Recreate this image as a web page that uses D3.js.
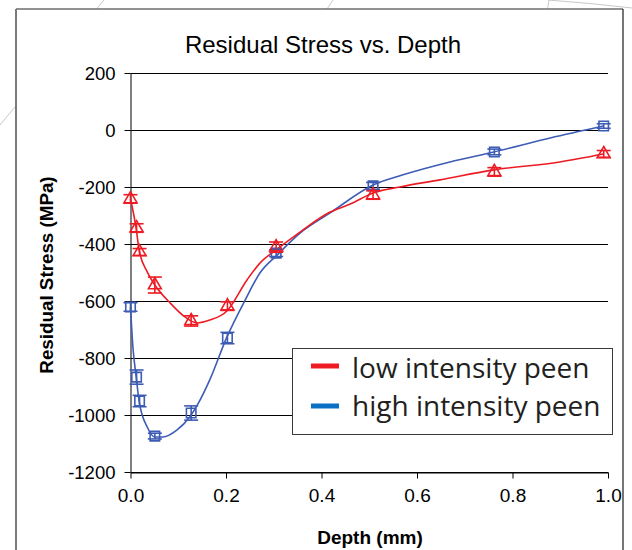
<!DOCTYPE html>
<html>
<head>
<meta charset="utf-8">
<script src="https://cdn.jsdelivr.net/npm/d3@7"></script>
<style>
html,body{margin:0;padding:0;background:#fff;}
svg{display:block;}
</style>
</head>
<body>
<svg id="chart" width="632" height="550"></svg>
<script>
// ---- data ----
const title = "Residual Stress vs. Depth";
const xTicks = [0, 0.2, 0.4, 0.6, 0.8, 1.0];
const yTicks = [200, 0, -200, -400, -600, -800, -1000, -1200];
const seriesNames = ["low intensity peen", "high intensity peen"];

const depth = [0, 0.0127, 0.019, 0.051, 0.127, 0.203, 0.305, 0.508, 0.762, 0.991];
const lowStress  = [-242, -344, -428, -544, -670, -618, -411, -228, -147, -84];
const lowErr     = [15, 15, 12, 28, 18, 15, 18, 15, 15, 12];
const highStress = [-621, -867, -951, -1074, -993, -730, -432, -196, -77, 14];
const highErr    = [15, 25, 20, 10, 25, 20, 12, 12, 10, 8];

// smoothed curves
const lowFitDepth  = [0, 0.012, 0.018, 0.035, 0.051, 0.083, 0.114, 0.139, 0.166, 0.202, 0.244, 0.271, 0.307, 0.355, 0.418, 0.460, 0.508, 0.564, 0.648, 0.761, 0.899, 0.990];
const lowFitStress = [-242, -347, -421, -498, -544, -607, -656, -677, -667, -635, -526, -467, -418, -358, -288, -260, -221, -200, -175, -140, -112, -84];
const highFitDepth  = [0, 0.005, 0.012, 0.018, 0.035, 0.051, 0.068, 0.097, 0.124, 0.141, 0.166, 0.202, 0.240, 0.271, 0.307, 0.355, 0.418, 0.508, 0.569, 0.669, 0.761, 0.879, 0.990];
const highFitStress = [-621, -761, -867, -951, -1042, -1077, -1077, -1053, -1007, -962, -877, -726, -597, -502, -439, -362, -291, -193, -158, -112, -77, -28, 14];

// ---- drawing ----
const RED = "#ed1c24", BLUE = "#3d5cb4", LEG_BLUE = "#0a70c4";
const svg = d3.select("#chart");

// decorative background strokes
const bg = svg.append("g").attr("stroke", "#c8c8c8").attr("stroke-width", 1).attr("fill", "none");
bg.append("line").attr("x1", 0).attr("y1", 125).attr("x2", 104).attr("y2", 0);
bg.append("line").attr("x1", 325).attr("y1", 12).attr("x2", 333).attr("y2", 0);
bg.append("line").attr("x1", 547).attr("y1", 12).attr("x2", 549).attr("y2", 0);
bg.append("path").attr("d", "M548,0 Q590,3 632,8");

// frame
svg.append("rect").attr("x", 16).attr("y", 9).attr("width", 607).attr("height", 560).attr("fill", "#fff");
svg.append("line").attr("x1", 16).attr("y1", 9).attr("x2", 623).attr("y2", 9).attr("stroke", "#6e6e6e").attr("stroke-width", 1.5);
svg.append("line").attr("x1", 16).attr("y1", 9).attr("x2", 16).attr("y2", 550).attr("stroke", "#7a7a7a").attr("stroke-width", 2);
svg.append("line").attr("x1", 623).attr("y1", 9).attr("x2", 623).attr("y2", 550).attr("stroke", "#1a1a1a").attr("stroke-width", 1.2);

const x = d3.scaleLinear().domain([0, 1]).range([130.5, 608]);
const y = d3.scaleLinear().domain([-1200, 200]).range([472, 73]);

// gridlines
svg.append("g").selectAll("line").data(yTicks).join("line")
  .attr("x1", x(0)).attr("x2", x(1))
  .attr("y1", d => Math.round(y(d)) + 0.5).attr("y2", d => Math.round(y(d)) + 0.5)
  .attr("stroke", "#000").attr("stroke-width", 1);

// y axis
const yAxis = d3.axisLeft(y).tickValues(yTicks).tickSize(6).tickSizeOuter(0).tickFormat(d => String(d));
const gy = svg.append("g").attr("transform", `translate(${x(0)},0)`).call(yAxis);
gy.select(".domain").attr("stroke", "#000");
gy.selectAll(".tick line").attr("stroke", "#000");
gy.selectAll(".tick text").attr("font-family", "Liberation Sans, Arial, sans-serif")
  .attr("font-size", 18.5).attr("fill", "#000").attr("x", -15).attr("dy", "0.35em");

// x axis
const xAxis = d3.axisBottom(x).tickValues(xTicks).tickSize(6).tickSizeOuter(0).tickFormat(d3.format(".1f"));
const gx = svg.append("g").attr("transform", `translate(0,${Math.round(y(-1200)) + 0.5})`).call(xAxis);
gx.select(".domain").attr("stroke", "#000");
gx.selectAll(".tick line").attr("stroke", "#000");
gx.selectAll(".tick text").attr("font-family", "Liberation Sans, Arial, sans-serif")
  .attr("font-size", 19).attr("fill", "#000").attr("y", 16).attr("dy", "0.71em");

// title & axis labels
svg.append("text").attr("x", 323).attr("y", 53).attr("text-anchor", "middle")
  .attr("font-family", "Liberation Sans, Arial, sans-serif").attr("font-size", 24).attr("fill", "#000").text(title);
svg.append("text").attr("x", 370).attr("y", 544).attr("text-anchor", "middle")
  .attr("font-family", "Liberation Sans, Arial, sans-serif").attr("font-weight", "bold").attr("font-size", 19).attr("fill", "#000").text("Depth (mm)");
svg.append("text").attr("transform", "translate(53,275) rotate(-90)").attr("text-anchor", "middle")
  .attr("font-family", "Liberation Sans, Arial, sans-serif").attr("font-weight", "bold").attr("font-size", 18.8).attr("fill", "#000").text("Residual Stress (MPa)");

// curves
const line = d3.line().x(d => x(d[0])).y(d => y(d[1])).curve(d3.curveMonotoneX);
svg.append("path").datum(highFitDepth.map((d, i) => [d, highFitStress[i]]))
  .attr("d", line).attr("fill", "none").attr("stroke", BLUE).attr("stroke-width", 1.6);
svg.append("path").datum(lowFitDepth.map((d, i) => [d, lowFitStress[i]]))
  .attr("d", line).attr("fill", "none").attr("stroke", RED).attr("stroke-width", 1.6);

// markers with error bars
function drawMarkers(vals, errs, color, symType, size, capHalf) {
  const g = svg.append("g").attr("stroke", color).attr("fill", "none").attr("stroke-width", 1.6);
  depth.forEach((d, i) => {
    const cx = x(d), top = y(vals[i] + errs[i]), bot = y(vals[i] - errs[i]);
    g.append("line").attr("x1", cx).attr("x2", cx).attr("y1", top).attr("y2", bot);
    g.append("line").attr("x1", cx - capHalf).attr("x2", cx + capHalf).attr("y1", top).attr("y2", top);
    g.append("line").attr("x1", cx - capHalf).attr("x2", cx + capHalf).attr("y1", bot).attr("y2", bot);
    g.append("path").attr("d", d3.symbol().type(symType).size(size)())
      .attr("transform", `translate(${cx},${y(vals[i])})`);
  });
}
drawMarkers(highStress, highErr, BLUE, d3.symbolSquare, 90, 7);
drawMarkers(lowStress, lowErr, RED, d3.symbolTriangle, 72, 7);

// legend
const lg = svg.append("g");
lg.append("rect").attr("x", 292.5).attr("y", 348.5).attr("width", 320).attr("height", 86)
  .attr("fill", "#fff").attr("stroke", "#3a3a3a").attr("stroke-width", 1);
const legColors = [RED, LEG_BLUE];
seriesNames.forEach((name, i) => {
  const yy = 366 + i * 40;
  lg.append("line").attr("x1", 311).attr("x2", 339).attr("y1", yy).attr("y2", yy)
    .attr("stroke", legColors[i]).attr("stroke-width", 5);
  lg.append("text").attr("x", 352).attr("y", 378 + i * 38)
    .attr("font-family", "Open Sans, sans-serif").attr("font-size", 28).attr("fill", "#231f20").text(name);
});
</script>
</body>
</html>
